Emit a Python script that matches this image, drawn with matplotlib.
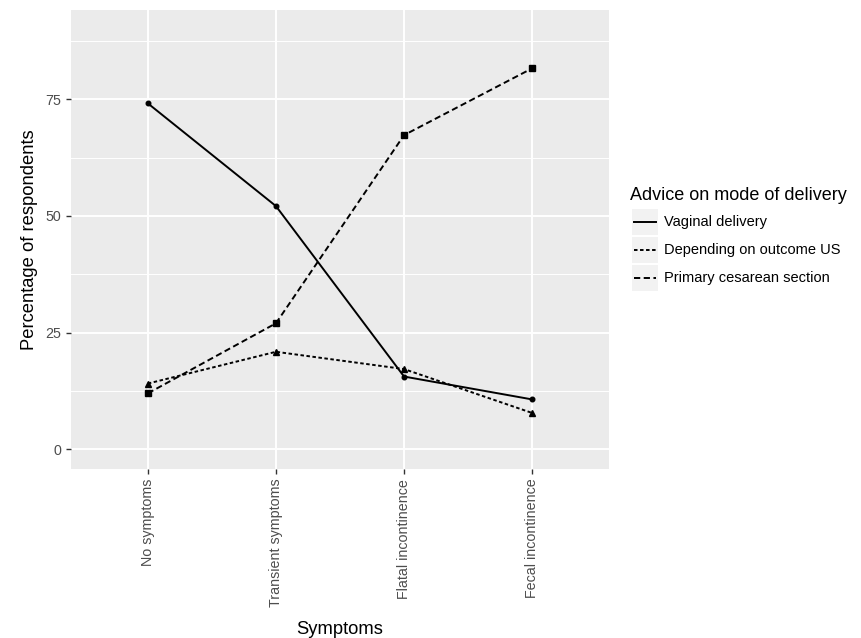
import matplotlib.pyplot as plt
from matplotlib.lines import Line2D
from matplotlib.patches import Rectangle

## data
symptoms = ["No symptoms", "Transient symptoms", "Flatal incontinence", "Fecal incontinence"]
vaginal = [74.1, 52.1, 15.6, 10.7]
depending = [14.1, 20.9, 17.2, 7.8]
cesarean = [12.0, 27.0, 67.3, 81.6]
series_names = ["Vaginal delivery", "Depending on outcome US", "Primary cesarean section"]
y_ticks = [0, 25, 50, 75]

plt.rcParams['font.family'] = ['Liberation Sans', 'DejaVu Sans']

W, H = 862, 638
fig = plt.figure(figsize=(W / 100, H / 100), dpi=100)
ax = fig.add_axes([71 / W, 1 - 469 / H, (609 - 71) / W, (469 - 9.5) / H])

ax.set_facecolor("#EBEBEB")
for s in ax.spines.values():
    s.set_visible(False)

x = list(range(1, len(symptoms) + 1))
styles = [
    dict(linestyle="-", marker="o", markersize=3.3),
    dict(linestyle=(0, (1.8, 1.3)), marker="^", markersize=5),
    dict(linestyle=(0, (3.2, 1.8)), marker="s", markersize=4.5),
]
for vals, st in zip([vaginal, depending, cesarean], styles):
    ax.plot(x, vals, color="black", linewidth=1.4, **st, zorder=3)

ax.set_xlim(0.4, 4.6)
ax.set_ylim(-4.2, 94.2)
ax.set_yticks(y_ticks)
ax.set_yticks([12.5, 37.5, 62.5, 87.5], minor=True)
ax.set_xticks(x)
ax.set_xticklabels(symptoms, rotation=90, va="top", ha="center")
ax.grid(True, which="major", color="white", linewidth=1.4)
ax.grid(True, which="minor", axis="y", color="white", linewidth=0.7)
ax.set_axisbelow(True)
ax.tick_params(which="major", length=3.5, width=1, color="#333333",
               labelcolor="#4D4D4D", labelsize=10.3)
ax.tick_params(which="minor", length=0)

ax.set_xlabel("Symptoms", fontsize=13.2, labelpad=10)
ax.set_ylabel("Percentage of respondents", fontsize=13.2, labelpad=5)

# legend, drawn by hand in pixel coordinates
def fx(px):
    return px / W

def fy(py):
    return 1 - py / H

fig.text(fx(630), fy(195), "Advice on mode of delivery", fontsize=13,
         va="center", ha="left")
key_y = [222, 250, 278]
for name, st, ky in zip(series_names, styles, key_y):
    fig.patches.append(Rectangle((fx(632), fy(ky + 13)), 26 / W, 26 / H,
                                 transform=fig.transFigure, facecolor="#F2F2F2",
                                 edgecolor="none"))
    fig.lines.append(Line2D([fx(634), fx(656)], [fy(ky), fy(ky)],
                            transform=fig.transFigure, color="black",
                            linewidth=1.4, linestyle=st["linestyle"]))
    fig.text(fx(664), fy(ky), name, fontsize=10.5, va="center", ha="left")

fig.savefig("out.png", dpi=100)
